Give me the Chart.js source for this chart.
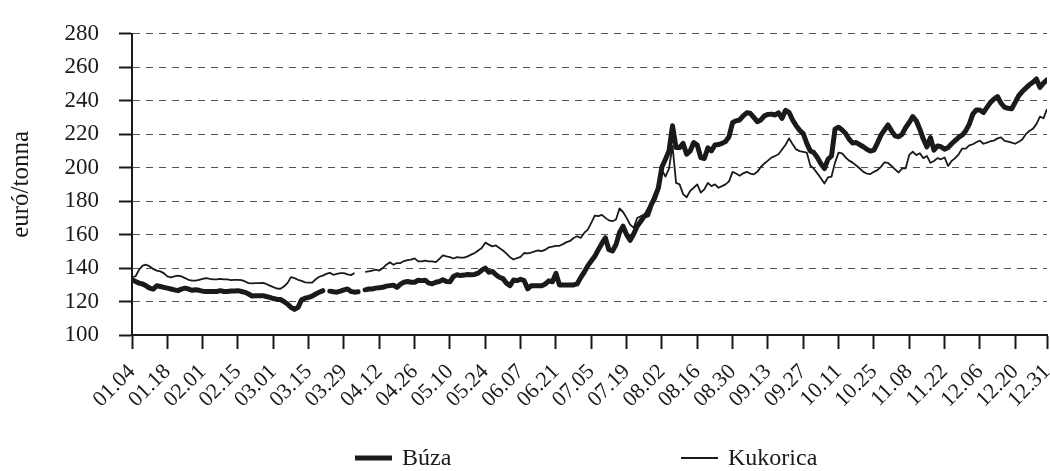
<!DOCTYPE html>
<html>
<head>
<meta charset="utf-8">
<script src="https://cdn.jsdelivr.net/npm/chart.js@4/dist/chart.umd.min.js"></script>
<style>
html,body{margin:0;padding:0;background:#fff;}
#wrap{width:1050px;height:471px;}
</style>
</head>
<body>
<div id="wrap"><canvas id="c" width="1050" height="471"></canvas></div>
<script>
// ---- data (daily trading days, 2010.01.04 – 12.31) ----
const tickLabels = ['01.04','01.18','02.01','02.15','03.01','03.15','03.29','04.12','04.26','05.10',
  '05.24','06.07','06.21','07.05','07.19','08.02','08.16','08.30','09.13','09.27',
  '10.11','10.25','11.08','11.22','12.06','12.20','12.31'];

const seriesNames = ['Búza', 'Kukorica'];
const yTitle = 'euró/tonna';

const buza = [
  133,132,131,130.5,129.4,128,127.4,129.4,129,128.5,
  128,127.5,127,126.5,127.4,128,127.5,126.7,127,126.7,
  126.2,126,126,126,126,126.5,126,126,126.3,126.3,
  126.5,126,125.5,124.5,123.3,123.5,123.5,123.5,123,122.5,
  121.8,121.4,121.2,120,118.5,116.5,115.3,116.5,121,122,
  122.5,123.2,124.5,125.5,126.5,null,126.2,125.8,125.6,126.2,
  127,127.5,126,125.6,125.8,null,127,127.5,127.5,128,
  128.3,128.5,129.2,129.5,129.8,128.5,130.4,131.5,132,131.5,
  131.5,132.7,132.5,132.7,131,130.6,131.5,132,133,132,
  131.8,135,136,135.5,135.8,136.2,136,136.2,137,138.7,
  140,137.5,138,136,134.5,133.7,131,129.5,132.9,132.5,
  133.3,132.5,127.6,129.5,129.5,129.5,129.5,130.5,132.4,131.8,
  136.8,129.9,129.9,129.9,129.9,129.9,130.5,134.3,137.5,141.3,
  144.2,147,151,154.7,158,151,150.2,154,161.3,165,
  160,156.6,160.4,165,168,171,171.8,178,182,188,
  200.4,205,210,225,212,212,214.5,208,210,215,
  213.5,206,205.5,211.8,210,213.5,213.8,214.5,215.6,218.5,
  227,228,228.5,231,232.8,232.5,230,227.5,228.5,231,
  231.8,232,231.5,232.8,229.5,234.3,233,228.5,225,222.3,
  220.4,214.5,210,209,206.1,202.3,199.5,205,207,223,
  224.2,222.5,220.4,217,214.7,215,213.7,212.5,211,209.9,
  210.5,214.7,219.4,222.5,225.5,222,219,218.5,220,224,
  227,230.5,228,223,217.1,212.4,218,210.5,213,212.5,
  211,212,214.3,216.2,218.1,219.5,222,226,232,234.5,
  234.5,233,236,239,241,242.5,238.5,236,235.5,235.2,
  239,243,245.5,247.5,249.5,251,253,248,250.5,252.5
];

const kukorica = [
  134.7,135,139,141.5,142,141,139.5,138.5,138,137,
  135,134.5,135,135.5,135,134,133,132.5,132.5,133,
  133.5,134,133.5,133.2,133.2,133.5,133.3,133.3,132.8,133,
  133,132.8,132,131,130.9,131,131,131.2,130.5,129.5,
  128.6,127.8,127.6,129,131,134.6,134,133,132.3,131.5,
  131.3,131.3,133.3,134.8,135.5,136.5,137.1,136,136.5,137,
  137,136.2,135.8,137,null,null,137.7,138,138.5,139,
  138.5,140,142,143.5,142,143,143,144.2,144.8,145,
  145.8,144,144,144.5,144,144,143.5,145.5,147.6,147,
  146.5,145.7,146.5,146.3,146.2,147,148,149,150.5,152,
  155.2,154,153,153.5,152,150.5,148.6,146.5,145.1,146,
  146.7,149,148.8,149.3,150,150.5,150.1,151,152.4,152.8,
  153.3,153.3,154.3,155.5,156.2,158,159,158,161,163,
  167,171.4,171,171.8,170,168.5,168,169,175.6,173.5,
  170,166,164,169.9,171,171.8,175.6,179.4,185.1,189,
  198.5,194.7,199.4,213,190.9,190,184.2,182.3,186.1,188,
  190,185.1,187,190.9,189,190,188,189,190,191.8,
  197.5,196.5,195.2,196.6,197.5,196.5,196,197.5,200.4,202.5,
  204.2,206,207,208,210.9,213.7,217.5,214,210.9,209.9,
  209.5,209,201.3,199.4,196.6,193.7,190.5,194.2,194.7,203,
  209,208.5,206.1,204.2,203,201.3,199.5,197.5,196.5,196.2,
  197.5,198.5,200.5,203.2,202.8,201,199,197.1,199.6,199.6,
  207.6,209.5,207.5,208.6,205.7,207,202.9,204,205.7,205,
  206.1,201,204,205.7,208,211.4,211.4,213.3,214,215.2,
  216.2,214.3,215,215.8,216.2,217.5,218.1,216,215.6,215,
  214.3,215.5,216.8,220,221.9,223.2,226,230.5,229.5,235
];

// ---- chart ----
const FONT = "'Liberation Serif','Times New Roman',serif";
const INK = '#1a1a1a';
const n = buza.length;
const tickIdx = tickLabels.map((_, k) => (k < tickLabels.length - 1 ? k * 10 : n - 1));
const toPoints = arr => arr.map((v, i) => ({ x: i, y: v }));

const bottomLegend = {
  id: 'bottomLegend',
  afterDraw(chart) {
    const ctx = chart.ctx;
    const y = 458;
    const items = [
      { text: seriesNames[0], lw: 5, x: 355 },
      { text: seriesNames[1], lw: 2, x: 681 }
    ];
    ctx.save();
    ctx.font = '24px ' + FONT;
    ctx.fillStyle = INK;
    ctx.strokeStyle = INK;
    ctx.textAlign = 'left';
    ctx.textBaseline = 'middle';
    items.forEach(it => {
      ctx.beginPath();
      ctx.lineWidth = it.lw;
      ctx.moveTo(it.x, y);
      ctx.lineTo(it.x + 37, y);
      ctx.stroke();
      ctx.fillText(it.text, it.x + 47, y + 1);
    });
    ctx.restore();
  }
};

new Chart(document.getElementById('c'), {
  type: 'line',
  data: {
    datasets: [
      { label: seriesNames[0], data: toPoints(buza), borderColor: INK, borderWidth: 5,
        pointRadius: 0, tension: 0, spanGaps: false, borderCapStyle: 'round', borderJoinStyle: 'round' },
      { label: seriesNames[1], data: toPoints(kukorica), borderColor: INK, borderWidth: 1.8,
        pointRadius: 0, tension: 0, spanGaps: false, borderJoinStyle: 'round' }
    ]
  },
  options: {
    responsive: false,
    animation: false,
    events: [],
    layout: { padding: { top: 21, right: 3, left: 0, bottom: 0 } },
    plugins: { legend: { display: false }, tooltip: { enabled: false } },
    scales: {
      x: {
        type: 'linear',
        min: 0,
        max: n - 1,
        afterBuildTicks: s => { s.ticks = tickIdx.map(v => ({ value: v })); },
        afterFit: s => { s.height = 136; s.paddingRight = 0; s.paddingLeft = 0; },
        grid: { drawOnChartArea: false, tickLength: 14, tickColor: INK, tickWidth: 2 },
        border: { color: INK, width: 2 },
        ticks: {
          autoSkip: false, minRotation: 45, maxRotation: 45, padding: 10,
          color: INK, font: { family: FONT, size: 22 },
          callback: (v, i) => tickLabels[i]
        }
      },
      y: {
        min: 100,
        max: 280,
        afterFit: s => { s.width = 132; },
        ticks: { stepSize: 20, padding: 20, color: INK, font: { family: FONT, size: 23 } },
        grid: { color: '#555', lineWidth: 1, tickLength: 13, tickColor: INK, tickWidth: 2 },
        border: { color: INK, width: 2, dash: [7, 6] },
        title: { display: true, text: yTitle, color: INK, font: { family: FONT, size: 25 },
                 padding: { top: 6, bottom: 0 } }
      }
    }
  },
  plugins: [bottomLegend]
});
</script>
</body>
</html>
